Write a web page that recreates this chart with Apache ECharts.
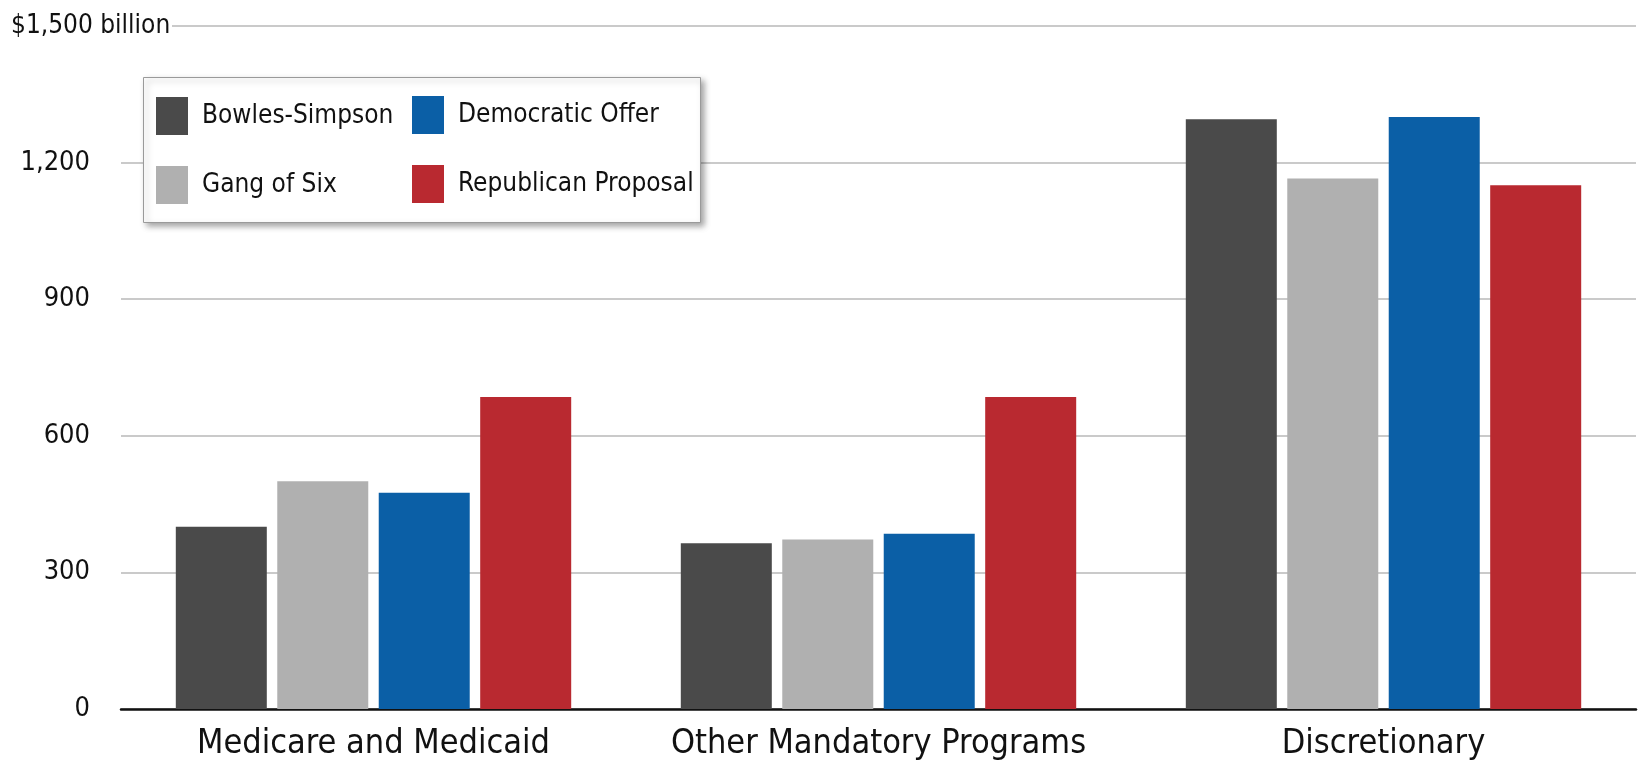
<!DOCTYPE html>
<html>
<head>
<meta charset="utf-8">
<script src="https://cdn.jsdelivr.net/npm/echarts@6/dist/echarts.min.js"></script>
<style>
  html, body { margin: 0; padding: 0; background: #fff; }
  #chart { width: 1648px; height: 769px; }
</style>
</head>
<body>
<div id="chart"></div>
<script>
// ---- Data ----
const categories = ['Medicare and Medicaid', 'Other Mandatory Programs', 'Discretionary'];
const seriesNames = ['Bowles-Simpson', 'Gang of Six', 'Democratic Offer', 'Republican Proposal'];
const bowlesSimpson = [400, 364, 1295];
const gangOfSix = [500, 372, 1165];
const democraticOffer = [475, 385, 1300];
const republicanProposal = [685, 685, 1150];
const yTickValues = [0, 300, 600, 900, 1200, 1500];
const yTickLabels = ['0', '300', '600', '900', '1,200', '$1,500 billion'];

const colors = ['#4a4a4a', '#b0b0b0', '#0b5fa6', '#b92930'];
const FONT = "'Liberation Sans Narrow', 'DejaVu Sans Condensed', 'Roboto Condensed', sans-serif";

const chart = echarts.init(document.getElementById('chart'), null, { renderer: 'canvas' });

const seriesValues = [bowlesSimpson, gangOfSix, democraticOffer, republicanProposal];

const option = {
  backgroundColor: '#ffffff',
  animation: false,
  textStyle: { fontFamily: FONT },
  grid: { left: 121, right: 12, top: 26, bottom: 60, containLabel: false },
  xAxis: {
    type: 'category',
    data: categories,
    axisLine: { show: true, lineStyle: { color: '#111', width: 2.5 } },
    axisTick: { show: false },
    axisLabel: { interval: 0, color: '#111', fontSize: 34, fontFamily: FONT, margin: 18 }
  },
  yAxis: {
    type: 'value',
    min: 0,
    max: 1500,
    interval: 300,
    axisLine: { show: false },
    axisTick: { show: false },
    splitLine: { show: true, lineStyle: { color: '#b8b8b8', width: 1.5 } },
    axisLabel: {
      align: 'left',
      margin: 110,
      formatter: function (v) {
        const i = yTickValues.indexOf(v);
        const txt = i >= 0 ? yTickLabels[i] : String(v);
        return v === 1500 ? '{t|' + txt + '}' : '{n|' + txt + '}';
      },
      rich: {
        n: { width: 79, align: 'right', fontSize: 27, color: '#111', fontFamily: FONT },
        t: { width: 161, align: 'left', fontSize: 26, color: '#111', fontFamily: FONT, backgroundColor: '#ffffff', padding: [2, 0, 2, 0] }
      }
    }
  },
  legend: [
    {
      data: [seriesNames[0], seriesNames[1]],
      orient: 'vertical',
      left: 156,
      top: 97,
      padding: 0,
      itemWidth: 32,
      itemHeight: 38,
      itemGap: 31,
      icon: 'rect',
      selectedMode: false,
      textStyle: { fontSize: 26, color: '#111', fontFamily: FONT, padding: [0, 0, 0, 9] }
    },
    {
      data: [seriesNames[2], seriesNames[3]],
      orient: 'vertical',
      left: 412,
      top: 96,
      padding: 0,
      itemWidth: 32,
      itemHeight: 38,
      itemGap: 31,
      icon: 'rect',
      selectedMode: false,
      textStyle: { fontSize: 26, color: '#111', fontFamily: FONT, padding: [0, 0, 0, 9] }
    }
  ],
  graphic: [
    {
      type: 'rect',
      z: 3,
      shape: { x: 143.5, y: 77.5, width: 557, height: 145 },
      style: {
        fill: '#ffffff',
        stroke: '#9a9a9a',
        lineWidth: 1,
        shadowBlur: 6,
        shadowOffsetX: 3,
        shadowOffsetY: 3,
        shadowColor: 'rgba(0,0,0,0.35)'
      }
    }
  ],
  series: seriesNames.map(function (name, i) {
    return {
      name: name,
      type: 'bar',
      data: seriesValues[i],
      barWidth: 91,
      barGap: '11.5%',
      itemStyle: { color: colors[i] }
    };
  })
};

chart.setOption(option);
</script>
</body>
</html>
